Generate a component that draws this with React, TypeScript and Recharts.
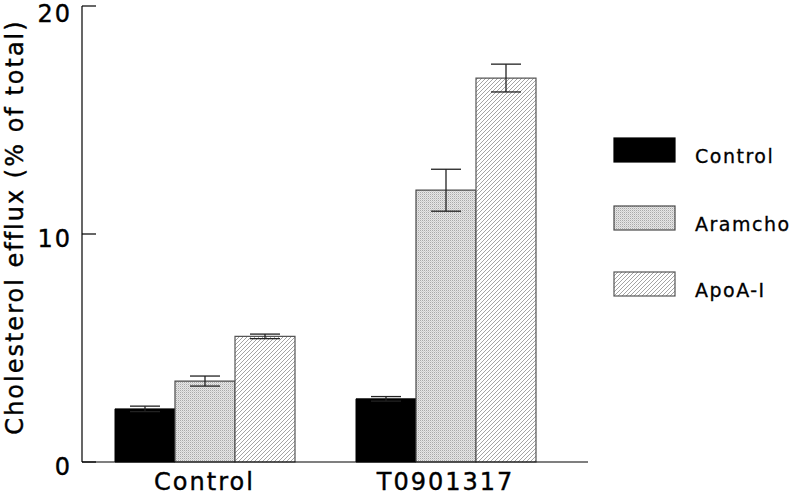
import React from 'react';
import { BarChart, Bar, XAxis, YAxis, ErrorBar, Label } from 'recharts';

const groups = ['Control', 'T0901317'];
const controlMean = [2.33, 2.77];
const controlErr = [0.12, 0.1];
const aramchoMean = [3.55, 11.92];
const aramchoErr = [0.22, 0.92];
const apoMean = [5.51, 16.84];
const apoErr = [0.1, 0.61];
const yTicks = [0, 10, 20];
const seriesNames = ['Control', 'Aramcho', 'ApoA-I'];
const yLabel = 'Cholesterol efflux (% of total)';

const FONT = "'DejaVu Sans', sans-serif";
// thin outline on glyphs so the text reads as heavy as the scanned original
const INK = { fill: '#000', stroke: '#000', strokeWidth: 0.4 };

const data = groups.map((g, i) => ({
  group: g,
  control: controlMean[i],
  controlErr: controlErr[i],
  aramcho: aramchoMean[i],
  aramchoErr: aramchoErr[i],
  apo: apoMean[i],
  apoErr: apoErr[i],
}));

const fills = ['#000', 'url(#stipple)', 'url(#hatch)'];
const strokes = ['#000', '#4a4a4a', '#555'];

const YTick = (props: any) => {
  const { x, y, payload } = props;
  return (
    <text x={x} y={y + 13} textAnchor="end" fontSize={24} letterSpacing={2} fontFamily={FONT} {...INK}>
      {payload.value}
    </text>
  );
};

const XTick = (props: any) => {
  const { x, y, payload } = props;
  return (
    <text x={x} y={y + 28} textAnchor="middle" fontSize={24} letterSpacing={2} fontFamily={FONT} {...INK}>
      {payload.value}
    </text>
  );
};

const Patterns = () => (
  <defs>
    <pattern id="stipple" width="2" height="2" patternUnits="userSpaceOnUse">
      <rect width="2" height="2" fill="#e6e6e6" />
      <rect x="0" y="0" width="1" height="1" fill="#a9a9a9" />
      <rect x="1" y="1" width="1" height="1" fill="#cfcfcf" />
    </pattern>
    <pattern id="hatch" width="4" height="4" patternUnits="userSpaceOnUse">
      <rect width="4" height="4" fill="#fff" />
      <path d="M0,4 L4,0 M-1,1 L1,-1 M3,5 L5,3" stroke="#9a9a9a" strokeWidth="0.9" />
    </pattern>
  </defs>
);

function LegendBox() {
  const rows = [8, 76, 142];
  return (
    <svg width={192} height={190} style={{ position: 'absolute', left: 600, top: 130 }}>
      <Patterns />
      {seriesNames.map((name, i) => (
        <g key={name}>
          <rect x={14} y={rows[i]} width={61} height={24} fill={fills[i]} stroke={strokes[i]} strokeWidth={1.2} />
          <text x={95} y={rows[i] + 25} fontSize={19} letterSpacing={1.5} fontFamily={FONT} {...INK} strokeWidth={0.3}>
            {name}
          </text>
        </g>
      ))}
    </svg>
  );
}

export default function App() {
  return (
    <div style={{ position: 'absolute', left: 0, top: 0, width: 792, height: 496, background: '#fff' }}>
      <BarChart
        width={792}
        height={496}
        data={data}
        margin={{ top: 6, right: 204, left: 0, bottom: 0 }}
        barGap={0}
        barSize={60}
      >
        <XAxis
          dataKey="group"
          height={34}
          padding={{ left: 2, right: 22 }}
          tickLine={false}
          tickSize={0}
          tickMargin={0}
          tick={<XTick />}
          axisLine={{ stroke: '#000', strokeWidth: 1.2 }}
        />
        <XAxis
          xAxisId="top"
          orientation="top"
          dataKey="group"
          height={0}
          tick={false}
          tickLine={false}
          axisLine={{ stroke: '#000', strokeWidth: 1.2 }}
        />
        <YAxis
          width={82}
          domain={[0, 20]}
          ticks={yTicks}
          tickSize={-14}
          tickMargin={24}
          tick={<YTick />}
          tickLine={{ stroke: '#000', strokeWidth: 1.2 }}
          axisLine={{ stroke: '#000', strokeWidth: 1.2 }}
        >
          <Label
            content={() => (
              <text
                transform="translate(23,227) rotate(-90)"
                textAnchor="middle"
                fontSize={24}
                letterSpacing={2}
                fontFamily={FONT}
                {...INK}
              >
                {yLabel}
              </text>
            )}
          />
        </YAxis>
        <YAxis
          yAxisId="frame"
          orientation="right"
          width={0}
          domain={[0, 20]}
          tick={false}
          tickLine={false}
          axisLine={{ stroke: '#000', strokeWidth: 1.2 }}
        />
        <Bar dataKey="control" name={seriesNames[0]} fill={fills[0]} stroke={strokes[0]} strokeWidth={1} isAnimationActive={false}>
          <ErrorBar dataKey="controlErr" width={15} stroke="#222" strokeWidth={1.3} />
        </Bar>
        <Bar dataKey="aramcho" name={seriesNames[1]} fill={fills[1]} stroke={strokes[1]} strokeWidth={1.2} isAnimationActive={false}>
          <ErrorBar dataKey="aramchoErr" width={15} stroke="#222" strokeWidth={1.3} />
        </Bar>
        <Bar dataKey="apo" name={seriesNames[2]} fill={fills[2]} stroke={strokes[2]} strokeWidth={1.2} isAnimationActive={false}>
          <ErrorBar dataKey="apoErr" width={15} stroke="#222" strokeWidth={1.3} />
        </Bar>
      </BarChart>
      <LegendBox />
    </div>
  );
}
